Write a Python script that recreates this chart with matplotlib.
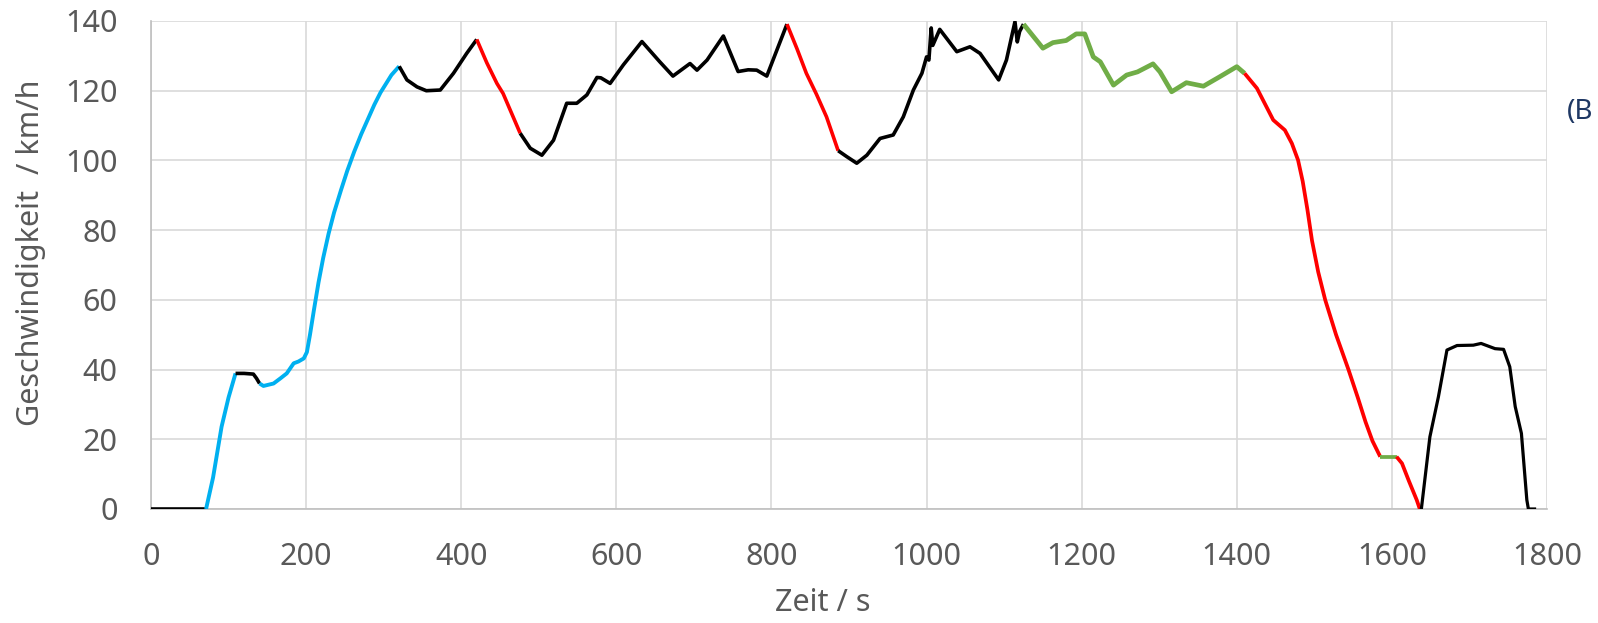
import matplotlib
matplotlib.use("Agg")
import matplotlib.pyplot as plt

# ---- data ----
black1_t = [0, 71]
black1_v = [0, 0]
blue1_t = [71, 80, 91, 100, 109]
blue1_v = [0, 9, 23.6, 32, 38.9]
black2_t = [109, 120, 132, 136, 140]
black2_v = [38.9, 38.9, 38.7, 37.5, 36]
blue2_t = [140, 145, 158, 167, 175, 184, 190, 197, 201, 205, 210, 216, 222, 229, 236, 245, 253,
           262, 271, 280, 288, 296, 303, 310, 320]
blue2_v = [36, 35.3, 36, 37.5, 38.9, 41.8, 42.3, 43.2, 45, 50, 57, 65, 72, 79, 85, 91.5, 97,
           102.5, 107.5, 112, 116, 119.5, 122, 124.5, 127]
black3_t = [320, 330, 343, 355, 373, 390, 407, 420]
black3_v = [127, 123.1, 121.1, 120, 120.2, 125, 130.7, 134.7]
red1_t = [420, 433, 446, 454, 465, 476]
red1_v = [134.7, 128, 122.1, 119.2, 113.5, 107.8]
black4_t = [476, 489, 504, 519, 536, 549, 562, 575, 580, 592, 609, 633, 656, 673, 695, 704,
            717, 738, 757, 770, 781, 794, 820]
black4_v = [107.8, 103.5, 101.5, 105.8, 116.4, 116.4, 118.8, 123.8, 123.7, 122.1, 127.4, 134.1,
            128.3, 124.2, 127.8, 125.9, 128.8, 135.7, 125.5, 126, 125.9, 124.2, 139.1]
red2_t = [820, 833, 845, 858, 871, 886]
red2_v = [139.1, 132, 125, 119, 112.5, 102.8]
black5_t = [886, 897, 910, 923, 940, 957, 970, 983, 994, 1000, 1003, 1006, 1008, 1017, 1039,
            1056, 1069, 1093, 1103, 1114, 1117, 1120, 1125]
black5_v = [102.8, 101.1, 99.2, 101.5, 106.3, 107.3, 112.5, 120.2, 125, 129.7, 128.8, 138, 133,
            137.6, 131.2, 132.6, 130.7, 123.1, 128.8, 139.8, 134, 137, 139.1]
green1_t = [1125, 1138, 1150, 1163, 1180, 1193, 1204, 1215, 1224, 1241, 1258, 1272, 1292, 1301,
            1316, 1335, 1357, 1378, 1400, 1410]
green1_v = [139.1, 135.5, 132.2, 133.8, 134.4, 136.3, 136.3, 129.7, 128.3, 121.6, 124.5, 125.4,
            127.7, 125.4, 119.7, 122.3, 121.3, 124, 126.9, 125]
red3_t = [1410, 1426, 1447, 1462, 1471, 1479, 1485, 1491, 1497, 1505, 1514, 1528, 1544, 1556,
          1566, 1575, 1585]
red3_v = [125, 120.7, 111.6, 108.7, 104.9, 100.1, 94, 86, 77, 68, 60, 50, 40, 32, 25, 19.5, 15]
green2_t = [1585, 1606]
green2_v = [15, 15]
red4_t = [1606, 1613, 1622, 1632, 1636]
red4_v = [15, 13.1, 8, 2.6, 0]
black6_t = [1636, 1638, 1649, 1660, 1671, 1684, 1705, 1715, 1733, 1744, 1752, 1759, 1767, 1774,
            1776, 1786]
black6_v = [0, 0, 20.7, 32.2, 45.6, 46.9, 47, 47.5, 46, 45.8, 40.8, 29.4, 21.7, 2.6, 0, 0]

x_ticks = [0, 200, 400, 600, 800, 1000, 1200, 1400, 1600, 1800]
y_ticks = [0, 20, 40, 60, 80, 100, 120, 140]

BLACK = "#000000"
BLUE = "#00B0F0"
RED = "#FF0000"
GREEN = "#70AD47"

segments = [
    (black1_t, black1_v, BLACK, 2.6),
    (blue1_t, blue1_v, BLUE, 2.8),
    (black2_t, black2_v, BLACK, 2.6),
    (blue2_t, blue2_v, BLUE, 2.8),
    (black3_t, black3_v, BLACK, 2.6),
    (red1_t, red1_v, RED, 2.6),
    (black4_t, black4_v, BLACK, 2.6),
    (red2_t, red2_v, RED, 2.6),
    (black5_t, black5_v, BLACK, 2.6),
    (green1_t, green1_v, GREEN, 3.4),
    (red3_t, red3_v, RED, 2.7),
    (green2_t, green2_v, GREEN, 2.7),
    (red4_t, red4_v, RED, 2.7),
    (black6_t, black6_v, BLACK, 2.3),
]

plt.rcParams['font.family'] = ['Noto Sans', 'DejaVu Sans']

fig = plt.figure(figsize=(15.98, 6.23), dpi=100)
ax = fig.add_axes([151 / 1598, 1 - 509 / 623, 1396 / 1598, 488 / 623])

for t, v, c, lw in segments:
    ax.plot(t, v, color=c, lw=lw, solid_joinstyle='round', solid_capstyle='butt', zorder=3)

ax.set_xlim(0, 1800)
ax.set_ylim(0, 140)
ax.set_xticks(x_ticks)
ax.set_yticks(y_ticks)
ax.grid(True, color="#D9D9D9", lw=1.2)
ax.set_axisbelow(True)
for s in ['top', 'right']:
    ax.spines[s].set_visible(False)
for s in ['left', 'bottom']:
    ax.spines[s].set_color("#BFBFBF")
    ax.spines[s].set_linewidth(1.2)
ax.tick_params(axis='both', length=0, labelsize=22, labelcolor="#595959")
ax.tick_params(axis='x', pad=24)
ax.tick_params(axis='y', pad=24)

fig.text(823 / 1598, 1 - 603 / 623, "Zeit / s", ha='center', va='center',
         fontsize=22, color="#595959")
fig.text(31 / 1598, 1 - 253 / 623, "Geschwindigkeit  / km/h", ha='center', va='center',
         rotation=90, fontsize=22, color="#595959")
fig.text(1567 / 1598, 1 - 112 / 623, "(B", ha='left', va='center',
         fontsize=20, color="#1F3864")

fig.savefig("out.png", dpi=100)
